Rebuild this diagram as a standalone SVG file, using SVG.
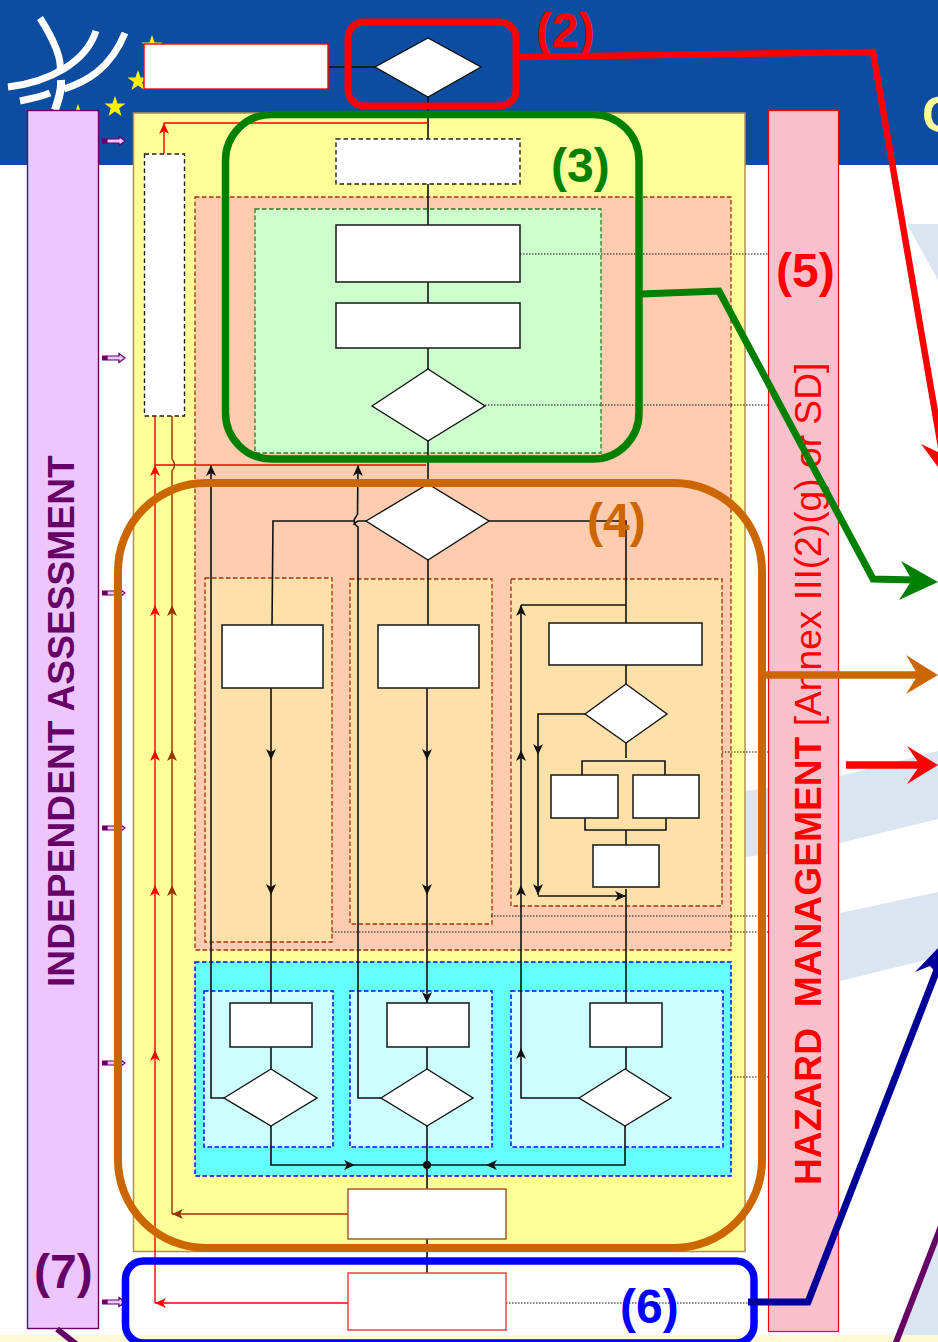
<svg xmlns="http://www.w3.org/2000/svg" width="938" height="1342" viewBox="0 0 938 1342">
<style>
text{font-family:"Liberation Sans",Arial,sans-serif}
.lab{font-weight:bold;font-size:48px}
.w{fill:#fff;stroke:#222;stroke-width:1.6}
.d{fill:#fff;stroke:#111;stroke-width:1.4}
.wd{fill:#fff;stroke:#222;stroke-width:1.4;stroke-dasharray:4.500 3}
.or{fill:#FFE0A8;stroke:#A8320A;stroke-width:1.3;stroke-dasharray:4.500 2.500}
.cy{fill:#CCFFFF;stroke:#0A0AFF;stroke-width:1.500;stroke-dasharray:4.500 2.500}
.b{fill:none;stroke:#111;stroke-width:1.600}
.r{fill:none;stroke:#f00;stroke-width:1.400}
.br{fill:none;stroke:#993300;stroke-width:1.400}
.dot{fill:none;stroke:#111;stroke-width:1.200;stroke-dasharray:1.500 1.500}
.a{fill:none;stroke-linejoin:miter}
</style>
<defs>
<marker id="mb" markerUnits="userSpaceOnUse" viewBox="-12 -6 13 12" markerWidth="13" markerHeight="12" refX="0" refY="0" orient="auto"><path d="M-11 -5L0 0L-11 5L-8 0Z" fill="#111"/></marker>
<marker id="mr" markerUnits="userSpaceOnUse" viewBox="-12 -6 13 12" markerWidth="13" markerHeight="12" refX="0" refY="0" orient="auto"><path d="M-11 -5L0 0L-11 5L-8 0Z" fill="#f00"/></marker>
<marker id="mbr" markerUnits="userSpaceOnUse" viewBox="-12 -6 13 12" markerWidth="13" markerHeight="12" refX="0" refY="0" orient="auto"><path d="M-11 -5L0 0L-11 5L-8 0Z" fill="#993300"/></marker>
<g id="pa"><path d="M102 -2.500h5v5h-5z" fill="#660066"/><path d="M107 -2h12v-2.500l6 4.500-6 4.500v-2.500h-12z" fill="#EEC6FF" stroke="#660066" stroke-width="1.200"/></g>
<path id="star" d="M0 -11L2.600 -3.500L10.500 -3.400L4.200 1.300L6.500 8.900L0 4.400L-6.500 8.900L-4.200 1.300L-10.500 -3.400L-2.600 -3.500Z" fill="#FFF200"/>
</defs>

<g id="background">
<rect width="938" height="1342" fill="#fff"/>
<rect width="938" height="165" fill="#0D4DA1"/>
<path d="M907 224H938V280Z" fill="#DBE5F1"/>
<path d="M740 792L840 776L938 751V819L840 843L740 858Z" fill="#DBE5F1"/>
<path d="M840 913L938 892V957L840 981Z" fill="#DBE5F1"/>
<path d="M897 1336L938 1236V1336Z" fill="#DBE5F1"/>
<rect y="1335" width="938" height="7" fill="#FFF8D5"/>
<g fill="none" stroke="#fff" stroke-width="7">
<path d="M40 18C54 40 62 60 60 72"/><path d="M61 80C62 92 58 100 55 110" stroke-width="8"/>
<path d="M96 31C86 62 50 82 8 87" stroke-width="7"/>
<path d="M125 33C110 70 85 82 64 89" stroke-width="7"/><path d="M50 93C40 97 30 99 20 101" stroke-width="7"/>
</g>
<use href="#star" x="115" y="107"/><use href="#star" x="152" y="46"/><use href="#star" x="138" y="81"/><use href="#star" x="78" y="115"/>
<text x="922" y="132" font-size="50" font-weight="bold" fill="#FFFF99">C</text>
</g>

<g id="containers">
<rect id="panel-assessment" x="27.500" y="110.500" width="71" height="1218" fill="#EEC6FF" stroke="#660066" stroke-width="1.400"/>
<rect id="panel-hazard" x="768.500" y="110.500" width="70" height="1221" fill="#FCC0CC" stroke="#f00" stroke-width="1.200"/>
<rect id="panel-yellow" x="133.500" y="113" width="611.500" height="1138.500" fill="#FFFF99" stroke="#B09050" stroke-width="1.500"/>
<rect id="panel-salmon" x="195" y="197" width="536" height="753" fill="#FFCCB0" stroke="#A8320A" stroke-width="1.300" stroke-dasharray="4.500 2.500"/>
<rect id="panel-green" x="255" y="209" width="346" height="244" fill="#CCFFCC" stroke="#208020" stroke-width="1.300" stroke-dasharray="4.500 2.500"/>
<rect class="or" x="205" y="578" width="127" height="364"/>
<rect class="or" x="350" y="579" width="142" height="345"/>
<rect class="or" x="511" y="579" width="211" height="327"/>
<rect x="195" y="962" width="536" height="214" fill="#66FFFF" stroke="#0A0AFF" stroke-width="1.500" stroke-dasharray="4.500 2.500"/>
<rect class="cy" x="204" y="991" width="129" height="156"/>
<rect class="cy" x="350" y="991" width="142" height="156"/>
<rect class="cy" x="511" y="991" width="212" height="156"/>
</g>

<g id="connectors">
<path class="dot" d="M520 254H768M485 405H768M722 752H768M491 916H768M332 932H770M731 1077H768M506 1303H750"/>
<path class="b" d="M328 67H375M428 97V139M428 184V225M428 282V303M428 348V369M428 441V484"/>
<path class="b" d="M366 521H358Q354 523 354 525"/>
<path class="b" d="M355 521H273L272 625"/>
<path class="b" d="M381 1098H358V527Q353 524 354.500 519L357 515"/>
<path class="b" d="M357.500 515L358 465" marker-end="url(#mb)"/>
<path class="b" d="M224 1098H211V465" marker-end="url(#mb)"/>
<path class="b" d="M428 560V625M271 1047V1069M427 1047V1069M626 1047V1069M626 665V684M626 743V758M582 775V761H665V775M585 818V830H666V818M626 830V845"/>
<path class="b" d="M489 521H626V623"/>
<path class="b" d="M271 688V760" marker-end="url(#mb)"/><path class="b" d="M271 760V895" marker-end="url(#mb)"/><path class="b" d="M271 895V1003"/>
<path class="b" d="M427 688V760" marker-end="url(#mb)"/><path class="b" d="M427 760V895" marker-end="url(#mb)"/><path class="b" d="M427 895V1003" marker-end="url(#mb)"/>
<path class="b" d="M626 605H521"/>
<path class="b" d="M579 1098H521V1048" marker-end="url(#mb)"/><path class="b" d="M521 1048V885" marker-end="url(#mb)"/><path class="b" d="M521 885V750" marker-end="url(#mb)"/><path class="b" d="M521 750V605" marker-end="url(#mb)"/>
<path class="b" d="M585 714H538V755" marker-end="url(#mb)"/><path class="b" d="M538 755V895" marker-end="url(#mb)"/><path class="b" d="M538 896H626" marker-end="url(#mb)"/>
<path class="b" d="M626 889V1003"/>
<path class="b" d="M271 1126V1165H355" marker-end="url(#mb)"/><path class="b" d="M355 1165H427"/>
<path class="b" d="M625 1126V1165H486" marker-end="url(#mb)"/><path class="b" d="M486 1165H427"/>
<path class="b" d="M427 1126V1189M427 1239V1273"/>
<circle cx="427" cy="1165" r="4" fill="#111"/>
<path class="r" d="M428 123H164"/><path class="r" d="M164 154V123" marker-end="url(#mr)"/>
<path class="r" d="M155 1303V1050" marker-end="url(#mr)"/><path class="r" d="M155 1050V885" marker-end="url(#mr)"/><path class="r" d="M155 885V750" marker-end="url(#mr)"/><path class="r" d="M155 750V605" marker-end="url(#mr)"/><path class="r" d="M155 605V465" marker-end="url(#mr)"/><path class="r" d="M155 465V416"/>
<path class="r" d="M426 465H155"/>
<path class="r" d="M348 1303H155" marker-end="url(#mr)"/>
<path class="br" d="M348 1214H172" marker-end="url(#mbr)"/>
<path class="br" d="M172 1214V885" marker-end="url(#mbr)"/><path class="br" d="M172 885V750" marker-end="url(#mbr)"/><path class="br" d="M172 750V605" marker-end="url(#mbr)"/><path class="br" d="M172 605V471Q177 465 172 459V416"/>
<use href="#pa" y="141"/><use href="#pa" y="358"/><use href="#pa" y="593"/><use href="#pa" y="828"/><use href="#pa" y="1063"/><use href="#pa" y="1302"/>
</g>

<g id="n-top-box"><rect x="144" y="44" width="184" height="45" fill="#fff" stroke="#f00" stroke-width="1.400"/></g>
<g id="n-top-diamond"><path class="d" d="M375 67L428 38L481 67L428 97Z"/></g>
<g id="n-dashed-top"><rect class="wd" x="336" y="139" width="184" height="45"/></g>
<g id="n-dashed-side"><rect class="wd" x="144.500" y="154" width="40" height="262"/></g>
<g id="n-a1"><rect class="w" x="336" y="225" width="184" height="57"/></g>
<g id="n-a2"><rect class="w" x="336" y="303" width="184" height="45"/></g>
<g id="n-a3"><path class="d" d="M372 406L428 369L485 406L428 441Z"/></g>
<g id="n-split"><path class="d" d="M366 521L428 484L489 521L428 560Z"/></g>
<g id="n-b1"><rect class="w" x="222" y="625" width="101" height="63"/></g>
<g id="n-b2"><rect class="w" x="378" y="625" width="101" height="63"/></g>
<g id="n-b3"><rect class="w" x="549" y="623" width="153" height="42"/></g>
<g id="n-b4"><path class="d" d="M585 714L626 684L667 714L626 743Z"/></g>
<g id="n-b5"><rect class="w" x="551" y="775" width="67" height="43"/></g>
<g id="n-b6"><rect class="w" x="633" y="775" width="66" height="43"/></g>
<g id="n-b7"><rect class="w" x="593" y="845" width="66" height="42"/></g>
<g id="n-c1"><rect class="w" x="230" y="1003" width="82" height="44"/></g>
<g id="n-c2"><rect class="w" x="387" y="1003" width="82" height="44"/></g>
<g id="n-c3"><rect class="w" x="590" y="1003" width="72" height="44"/></g>
<g id="n-d1"><path class="d" d="M224 1098L271 1069L317 1098L271 1126Z"/></g>
<g id="n-d2"><path class="d" d="M381 1098L427 1069L473 1098L427 1126Z"/></g>
<g id="n-d3"><path class="d" d="M579 1098L625 1069L671 1098L625 1126Z"/></g>
<g id="n-e1"><rect x="348" y="1189" width="158" height="50" fill="#fff" stroke="#A05020" stroke-width="1.400"/></g>
<g id="n-e2"><rect x="348" y="1273" width="158" height="57" fill="#fff" stroke="#f33" stroke-width="1.400"/></g>

<g id="panel-text">
<text transform="translate(74 987) rotate(-90)" font-size="37.200" font-weight="bold" fill="#660066">INDEPENDENT ASSESSMENT</text>
<text transform="translate(821 1185) rotate(-90)" font-size="37.200" fill="#f00" style="white-space:pre"><tspan font-weight="bold">HAZARD  MANAGEMENT</tspan> [Annex III(2)(g) or SD]</text>
</g>

<g id="callouts">
<rect x="348" y="22" width="168" height="84" rx="16" fill="none" stroke="#f00" stroke-width="7"/>
<rect x="225.500" y="114.500" width="413.500" height="344.500" rx="46" fill="none" stroke="#008000" stroke-width="7.500"/>
<rect x="118" y="483" width="644" height="765" rx="88" fill="none" stroke="#CC6600" stroke-width="8"/>
<rect x="125.500" y="1261" width="628.500" height="82" rx="18" fill="none" stroke="#00f" stroke-width="7.500"/>
<text class="lab" x="536" y="47" fill="#f00">(2)</text>
<text class="lab" x="551" y="182" fill="#008000">(3)</text>
<text class="lab" x="587" y="537" fill="#CC6600">(4)</text>
<text class="lab" x="776" y="287" fill="#f00">(5)</text>
<text class="lab" x="620" y="1323" fill="#00f">(6)</text>
<text class="lab" x="34" y="1288" fill="#660066">(7)</text>
<path class="a" d="M520 57L873 52L945 470" stroke="#f00" stroke-width="6.500"/>
<path d="M921 444L938 452V467Z" fill="#f00"/>
<path class="a" d="M641 294L719 291L873 579L915 580" stroke="#008000" stroke-width="7"/>
<path d="M901 561L938 582L899 600L912 580Z" fill="#008000"/>
<path class="a" d="M764 675H920" stroke="#CC6600" stroke-width="7.500"/>
<path d="M906 655L938 675L906 694L918 675Z" fill="#CC6600"/>
<path class="a" d="M846 765H922" stroke="#f00" stroke-width="7.500"/>
<path d="M907 746L938 765L907 784L920 765Z" fill="#f00"/>
<path class="a" d="M748 1302H808L944 952" stroke="#000099" stroke-width="7"/>
<path d="M915 972L938 948V975L930 966Z" fill="#000099"/>
<path class="a" d="M895 1345L941 1226" stroke="#660066" stroke-width="6"/>
<path class="a" d="M57 1329L76 1344" stroke="#660066" stroke-width="6"/>
</g>
</svg>
